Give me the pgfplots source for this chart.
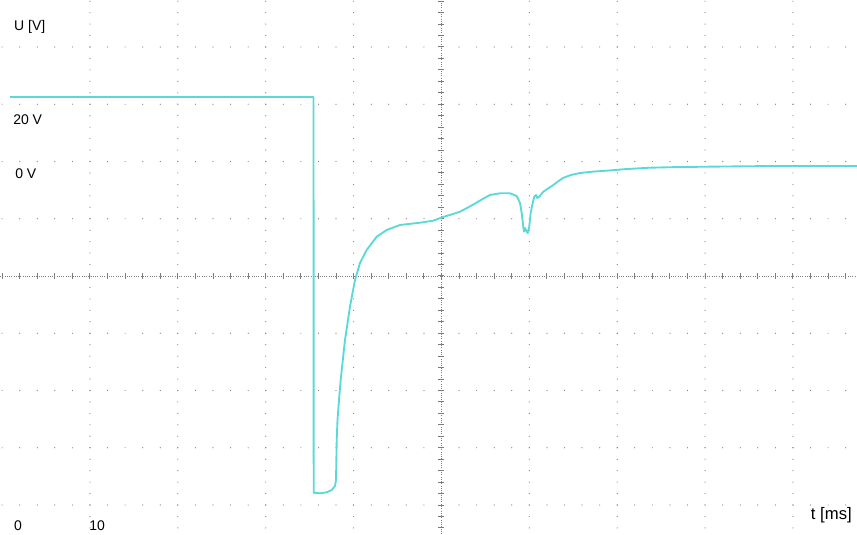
\documentclass[border=0pt]{standalone}
\usepackage{fontspec}
\setmainfont{Liberation Sans}
\usepackage{pgfplots}
\pgfplotsset{compat=1.18}
\definecolor{trace}{RGB}{92,216,216}
\definecolor{grd}{RGB}{125,125,125}
\begin{document}
\begin{tikzpicture}
\begin{axis}[
  width=642.75pt, height=400.5pt, scale only axis,
  xmin=-0.239, xmax=97.29, ymin=-130.13, ymax=56.42,
  axis line style={draw=none}, ticks=none,
  clip=true,
]
% graticule
\pgfplotsinvokeforeach{40,20,0,-20,-60,-80,-100,-120}{
  \draw[grd, line width=0.9pt, line cap=round, dash pattern=on 0pt off 13.181pt] (axis cs:0,#1) -- (axis cs:98,#1);
}
\pgfplotsinvokeforeach{10,20,30,40,60,70,80,90}{
  \draw[grd, line width=0.9pt, line cap=round, dash pattern=on 0pt off 8.5875pt] (axis cs:#1,-128) -- (axis cs:#1,60);
}
% centre lines
\draw[grd, line width=0.5pt, dash pattern=on 0.6pt off 1.1pt] (axis cs:50,-130.13) -- (axis cs:50,56.42);
\draw[grd, line width=0.5pt, dash pattern=on 0.6pt off 1.1pt] (axis cs:-0.239,-40) -- (axis cs:97.29,-40);
\draw[grd, line width=4.5pt, dash pattern=on 0.75pt off 7.8375pt] (axis cs:50,-128.175) -- (axis cs:50,60);
\draw[grd, line width=4.5pt, dash pattern=on 0.75pt off 12.431pt] (axis cs:-0.0569,-40) -- (axis cs:98,-40);
% signal
\addplot[trace, line width=1.4pt, line join=round] table {
t V
0.90 22.53
35.44 22.53
35.46 -115.80
35.49 -115.70
36.18 -115.91
36.94 -115.56
37.51 -114.76
37.88 -113.36
38.00 -111.27
38.08 -97.29
38.17 -90.30
38.34 -83.32
38.53 -76.33
39.02 -62.36
39.59 -50.72
40.16 -41.40
40.73 -35.46
41.49 -30.92
42.63 -26.27
43.77 -23.93
45.28 -22.18
47.56 -21.38
49.04 -20.68
50.18 -19.39
51.10 -18.55
52.11 -17.54
53.00 -16.10
53.82 -14.67
54.70 -13.10
55.52 -11.70
56.66 -11.11
57.80 -11.11
58.56 -12.05
58.94 -14.50
59.13 -17.99
59.31 -22.78
59.39 -24.52
59.50 -23.23
59.70 -24.52
59.81 -24.98
59.99 -22.78
60.15 -17.99
60.38 -14.50
60.56 -12.30
60.76 -11.70
60.90 -12.75
61.13 -12.30
61.59 -10.55
62.10 -9.50
62.73 -8.21
63.30 -6.90
63.83 -5.76
64.70 -4.75
65.76 -4.02
67.20 -3.55
68.80 -3.21
71.00 -2.65
73.73 -2.17
76.80 -1.95
80.18 -1.82
87.74 -1.57
97.29 -1.57
};
% labels
\begin{scope}[every node/.style={inner sep=0pt, font=\fontsize{10.5}{12}\selectfont, text=black}]
\node[anchor=base west] at (axis cs:1.35,45.59) {U [V]};
\node[anchor=base west] at (axis cs:1.24,12.75) {20 V};
\node[anchor=base west] at (axis cs:1.47,-6.11) {0 V};
\node[anchor=base west] at (axis cs:1.35,-129.05) {0};
\node[anchor=base west] at (axis cs:9.89,-129.05) {10};
\node[anchor=base east, font=\fontsize{12.5}{14}\selectfont] at (axis cs:96.72,-125.2) {t [ms]};
\end{scope}
\end{axis}
\end{tikzpicture}
\end{document}
